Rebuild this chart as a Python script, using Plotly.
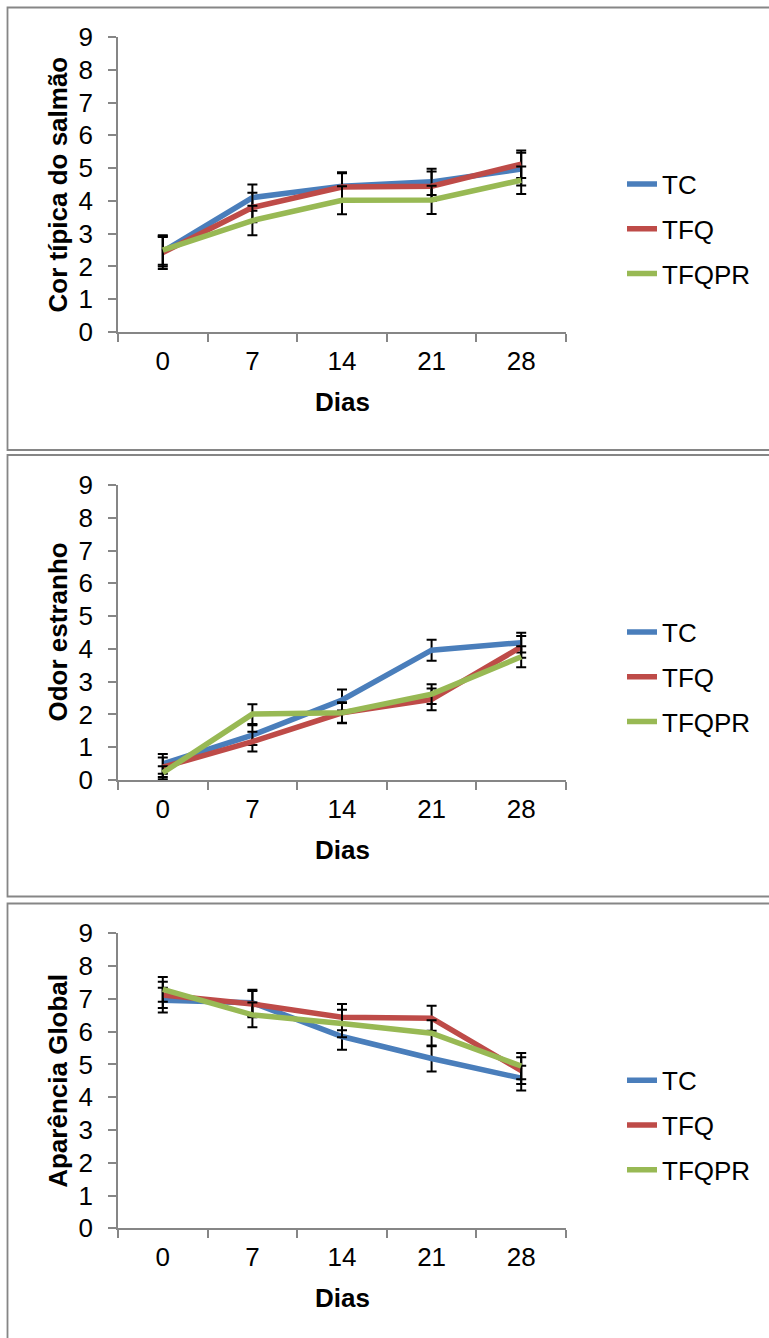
import plotly.graph_objects as go

W, H = 769, 1338

days = ["0", "7", "14", "21", "28"]
series_names = ["TC", "TFQ", "TFQPR"]
series_colors = ["#4A7EBB", "#BE4B48", "#98B954"]
y_ticks = [0, 1, 2, 3, 4, 5, 6, 7, 8, 9]

# Panel 1: Cor típica do salmão
cor_tc = [2.45, 4.10, 4.45, 4.58, 4.97]
cor_tfq = [2.42, 3.80, 4.42, 4.45, 5.12]
cor_tfqpr = [2.50, 3.40, 4.02, 4.03, 4.63]
cor_tc_err = [0.45, 0.40, 0.42, 0.40, 0.50]
cor_tfq_err = [0.50, 0.45, 0.42, 0.45, 0.42]
cor_tfqpr_err = [0.45, 0.45, 0.43, 0.43, 0.42]

# Panel 2: Odor estranho
odor_tc = [0.49, 1.37, 2.44, 3.96, 4.19]
odor_tfq = [0.39, 1.17, 2.05, 2.46, 4.06]
odor_tfqpr = [0.22, 2.01, 2.05, 2.62, 3.76]
odor_tc_err = [0.30, 0.30, 0.32, 0.32, 0.30]
odor_tfq_err = [0.30, 0.30, 0.32, 0.33, 0.33]
odor_tfqpr_err = [0.20, 0.30, 0.30, 0.30, 0.32]

# Panel 3: Aparência Global
apar_tc = [6.96, 6.88, 5.85, 5.18, 4.58]
apar_tfq = [7.12, 6.84, 6.44, 6.41, 4.81]
apar_tfqpr = [7.29, 6.51, 6.25, 5.95, 4.95]
apar_tc_err = [0.38, 0.40, 0.40, 0.40, 0.38]
apar_tfq_err = [0.40, 0.40, 0.40, 0.38, 0.41]
apar_tfqpr_err = [0.38, 0.38, 0.42, 0.40, 0.40]

panel_titles = ["Cor típica do salmão", "Odor estranho", "Aparência Global"]
x_title = "Dias"

panels = [
    ([cor_tc, cor_tfq, cor_tfqpr], [cor_tc_err, cor_tfq_err, cor_tfqpr_err]),
    ([odor_tc, odor_tfq, odor_tfqpr], [odor_tc_err, odor_tfq_err, odor_tfqpr_err]),
    ([apar_tc, apar_tfq, apar_tfqpr], [apar_tc_err, apar_tfq_err, apar_tfqpr_err]),
]


def fx(px):
    return px / W


def fy(py):
    return 1 - py / H


# layout geometry (pixels)
axis_x0, axis_x1 = 118, 566
y0_px = [332, 780, 1228.3]
unit = 32.78
boxes = [(7.5, 450), (455, 896.5), (903.5, 1345)]

FONT = "Liberation Sans, Arial, sans-serif"
AXC = "#868686"

fig = go.Figure()

for p, (vals, errs) in enumerate(panels):
    sfx = "" if p == 0 else str(p + 1)
    for i, name in enumerate(series_names):
        fig.add_trace(go.Scatter(
            x=days, y=vals[i], name=name, mode="lines",
            line=dict(color=series_colors[i], width=5.5),
            error_y=dict(type="data", array=errs[i], visible=True,
                         color="black", thickness=2, width=5),
            xaxis="x" + sfx, yaxis="y" + sfx,
            legend="legend" + sfx, legendgroup=f"p{p}_{name}",
        ))

layout = dict(
    template="none",
    width=W, height=H, margin=dict(l=0, r=0, t=0, b=0, pad=0),
    autosize=False,
    paper_bgcolor="white", plot_bgcolor="white",
    font=dict(family=FONT, size=26, color="black"),
    shapes=[], annotations=[],
)

for p in range(3):
    sfx = "" if p == 0 else str(p + 1)
    yb = y0_px[p]
    yt = yb - 9 * unit
    layout["xaxis" + sfx] = dict(
        type="category", categoryorder="array", categoryarray=days,
        domain=[fx(axis_x0), fx(axis_x1)], range=[-0.5, 4.5],
        anchor="y" + sfx, showline=True, linecolor=AXC, linewidth=1.5,
        ticks="outside", ticklen=8, tickcolor=AXC, tickwidth=1.5,
        tickson="boundaries", showgrid=False, zeroline=False,
        automargin=False,
        tickfont=dict(size=26, family=FONT), ticklabelstandoff=5,
    )
    layout["yaxis" + sfx] = dict(
        domain=[fy(yb), fy(yt)], range=[0, 9], tickvals=y_ticks,
        anchor="x" + sfx, showline=True, linecolor=AXC, linewidth=1.5,
        ticks="outside", ticklen=8, tickcolor=AXC, tickwidth=1.5,
        showgrid=False, zeroline=False, automargin=False,
        tickfont=dict(size=26, family=FONT), ticklabelstandoff=10,
    )
    yl = yb - (332 - 229)
    layout["legend" + sfx] = dict(
        x=fx(622), y=fy(yl), xanchor="left", yanchor="middle",
        font=dict(size=26, family=FONT), bgcolor="rgba(0,0,0,0)",
        traceorder="grouped", tracegroupgap=8, borderwidth=0,
    )
    # axis titles
    layout["annotations"].append(dict(
        text="<b>" + x_title + "</b>", xref="paper", yref="paper",
        x=fx((axis_x0 + axis_x1) / 2), y=fy(yb + 70), xanchor="center",
        yanchor="middle", showarrow=False, font=dict(size=26, family=FONT),
    ))
    layout["annotations"].append(dict(
        text="<b>" + panel_titles[p] + "</b>", xref="paper", yref="paper",
        x=fx(58), y=fy((yb + yt) / 2), xanchor="center", yanchor="middle",
        textangle=-90, showarrow=False, font=dict(size=26, family=FONT),
    ))
    bx0, bx1 = boxes[p]
    layout["shapes"].append(dict(
        type="rect", xref="paper", yref="paper",
        x0=fx(7.5), x1=fx(775), y0=fy(bx1), y1=fy(bx0),
        line=dict(color=AXC, width=1.8), layer="below",
    ))

fig.update_layout(**layout)
fig.write_html("out.html")
